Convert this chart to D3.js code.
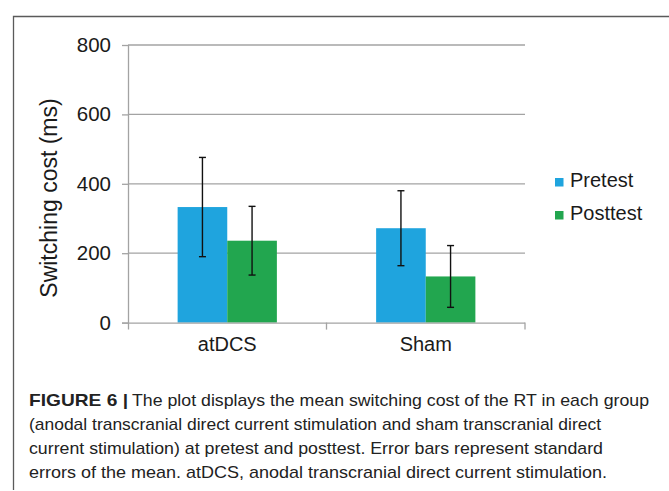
<!DOCTYPE html>
<html>
<head>
<meta charset="utf-8">
<script src="https://cdn.jsdelivr.net/npm/d3@7"></script>
<style>
  body { margin: 0; background: #fff; }
  svg { display: block; font-family: "Liberation Sans", Arial, sans-serif; }
</style>
</head>
<body>
<div id="chart"></div>
<script>
// data
var groups = ["atDCS", "Sham"];
var seriesNames = ["Pretest", "Posttest"];
var pretest = [333, 272];
var posttest = [236, 133];
var pretestErr = [143, 108];
var posttestErr = [99, 89];
var yTicks = [0, 200, 400, 600, 800];
var colors = ["#1fa4de", "#22a64f"];

var captionLines = [
	"The plot displays the mean switching cost of the RT in each group",
	"(anodal transcranial direct current stimulation and sham transcranial direct",
	"current stimulation) at pretest and posttest. Error bars represent standard",
	"errors of the mean. atDCS, anodal transcranial direct current stimulation."
];

var W = 669, H = 491;

var svg = d3.select("#chart").append("svg")
	.attr("width", W)
	.attr("height", H);

// outer frame (left + top)
svg.append("path")
	.attr("d", "M13.5,490V16.5H669")
	.attr("fill", "none")
	.attr("stroke", "#5a5a5a")
	.attr("stroke-width", 1.3);

var plot = {left: 128, right: 525, top: 45, bottom: 322.6};

var y = d3.scaleLinear()
	.domain([0, 800])
	.range([plot.bottom, plot.top]);

var x0 = d3.scaleBand()
	.domain(groups)
	.range([plot.left, plot.right]);

var x1 = d3.scaleBand()
	.domain(seriesNames)
	.range([0, x0.bandwidth()])
	.paddingOuter(1);

// gridlines
svg.append("g")
	.selectAll("line")
	.data(yTicks.filter(function(d){ return d > 0; }))
	.enter().append("line")
	.attr("x1", plot.left)
	.attr("x2", plot.right)
	.attr("y1", function(d){ return y(d); })
	.attr("y2", function(d){ return y(d); })
	.attr("stroke", "#a3a3a3")
	.attr("stroke-width", 1.3);

// bars
var rows = groups.map(function(g, i){
	return [
		{group: g, key: "Pretest", value: pretest[i], err: pretestErr[i], color: colors[0]},
		{group: g, key: "Posttest", value: posttest[i], err: posttestErr[i], color: colors[1]}
	];
});

var gGroups = svg.append("g").selectAll("g")
	.data(rows)
	.enter().append("g")
	.attr("transform", function(d, i){ return "translate(" + x0(groups[i]) + ",0)"; });

gGroups.selectAll("rect")
	.data(function(d){ return d; })
	.enter().append("rect")
	.attr("x", function(d){ return x1(d.key); })
	.attr("y", function(d){ return y(d.value); })
	.attr("width", x1.bandwidth())
	.attr("height", function(d){ return y(0) - y(d.value); })
	.attr("fill", function(d){ return d.color; });

// y axis
var yAxis = svg.append("g")
	.attr("transform", "translate(" + plot.left + ",0)")
	.call(d3.axisLeft(y).tickValues(yTicks).tickSize(6).tickPadding(11));
yAxis.select(".domain").attr("d", "M0.5," + plot.top + "V" + (plot.bottom + 7)).attr("stroke", "#a3a3a3").attr("stroke-width", 1.3);
yAxis.selectAll(".tick line").attr("stroke", "#a3a3a3").attr("stroke-width", 1.3);
yAxis.selectAll(".tick text")
	.attr("font-size", 20.5)
	.attr("font-family", "Liberation Sans, Arial, sans-serif")
	.attr("fill", "#1a1a1a");

// x axis
var xAxis = svg.append("g")
	.attr("transform", "translate(0," + plot.bottom + ")")
	.call(d3.axisBottom(x0).tickSize(0).tickPadding(14));
xAxis.select(".domain").attr("d", "M" + (plot.left - 6) + ",0.5H" + plot.right).attr("stroke", "#a3a3a3").attr("stroke-width", 1.3);
xAxis.selectAll(".tick text")
	.attr("font-size", 20)
	.attr("font-family", "Liberation Sans, Arial, sans-serif")
	.attr("fill", "#1a1a1a");

// group separator ticks
svg.append("g").selectAll("line")
	.data(groups)
	.enter().append("line")
	.attr("x1", function(d){ return x0(d) + x0.bandwidth(); })
	.attr("x2", function(d){ return x0(d) + x0.bandwidth(); })
	.attr("y1", plot.bottom)
	.attr("y2", plot.bottom + 7)
	.attr("stroke", "#a3a3a3")
	.attr("stroke-width", 1.3);

// error bars
var eb = gGroups.selectAll(".err")
	.data(function(d){ return d; })
	.enter().append("g")
	.attr("class", "err")
	.attr("stroke", "#111")
	.attr("stroke-width", 1.4);

eb.append("line")
	.attr("x1", function(d){ return x1(d.key) + x1.bandwidth() / 2; })
	.attr("x2", function(d){ return x1(d.key) + x1.bandwidth() / 2; })
	.attr("y1", function(d){ return y(d.value + d.err); })
	.attr("y2", function(d){ return y(d.value - d.err); });

[1, -1].forEach(function(s){
	eb.append("line")
		.attr("x1", function(d){ return x1(d.key) + x1.bandwidth() / 2 - 3.5; })
		.attr("x2", function(d){ return x1(d.key) + x1.bandwidth() / 2 + 3.5; })
		.attr("y1", function(d){ return y(d.value + s * d.err); })
		.attr("y2", function(d){ return y(d.value + s * d.err); });
});

// y axis title
svg.append("text")
	.attr("transform", "translate(57,198) rotate(-90)")
	.attr("text-anchor", "middle")
	.attr("font-size", 23)
	.attr("fill", "#1a1a1a")
	.text("Switching cost (ms)");

// legend
var legend = svg.append("g").selectAll("g")
	.data(seriesNames)
	.enter().append("g")
	.attr("transform", function(d, i){ return "translate(555," + (187 + i * 33) + ")"; });

legend.append("rect")
	.attr("x", 0)
	.attr("y", -9)
	.attr("width", 8.5)
	.attr("height", 8.5)
	.attr("fill", function(d, i){ return colors[i]; });

legend.append("text")
	.attr("x", 15)
	.attr("y", 0)
	.attr("font-size", 20)
	.attr("fill", "#1a1a1a")
	.text(function(d){ return d; });

// caption
var cap = svg.append("g")
	.attr("font-family", "Liberation Sans, Arial, sans-serif")
	.attr("fill", "#222");

var capX = 29, capTop = 406, capStep = 24;
var lineEnds = [649, 601, 603, 607];

cap.append("text")
	.attr("x", capX)
	.attr("y", capTop)
	.attr("font-size", 17)
	.attr("font-weight", "bold")
	.attr("textLength", 99)
	.attr("lengthAdjust", "spacingAndGlyphs")
	.text("FIGURE 6 |");

cap.selectAll(".cl")
	.data(captionLines)
	.enter().append("text")
	.attr("class", "cl")
	.attr("x", function(d, i){ return i == 0 ? 132 : capX; })
	.attr("y", function(d, i){ return capTop + i * capStep; })
	.attr("font-size", 17)
	.attr("textLength", function(d, i){ return lineEnds[i] - (i == 0 ? 132 : capX); })
	.attr("lengthAdjust", "spacingAndGlyphs")
	.text(function(d){ return d; });
</script>
</body>
</html>
